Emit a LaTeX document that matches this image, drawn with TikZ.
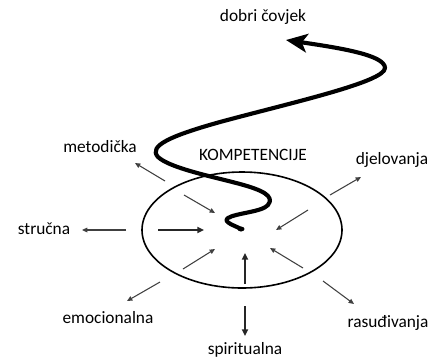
\documentclass[tikz,border=0pt]{standalone}
\usepackage{fontspec}
\setmainfont{Carlito}
\usetikzlibrary{arrows.meta,shapes.geometric}
\begin{document}
\begin{tikzpicture}[x=0.75pt,y=-0.75pt,
  lbl/.style={font=\fontsize{13}{15}\selectfont, inner sep=0pt},
  thin arrow/.style={draw=black!75, line width=0.8pt, -{Triangle[length=4pt,width=3.5pt]}},
  thick arrow/.style={draw=black!85, line width=1.4pt, -{Triangle[length=5pt,width=4.5pt]}},
  spiral/.style={line width=3.1pt, line cap=round, line join=round, -{Stealth[length=16pt,width=14pt,inset=4pt]}}]
\useasboundingbox (0,0) rectangle (441,361);
% circle
\node[draw, line width=1.2pt, ellipse, minimum width=150pt, minimum height=87pt, inner sep=0pt] (ell) at (242,230) {};
% labels
\node[lbl] (dobri) at (263,17) {dobri čovjek};
\node[lbl] (met) at (100,147) {metodička};
\node[lbl] (komp) at (253,155) {KOMPETENCIJE};
\node[lbl] (dje) at (392,160) {djelovanja};
\node[lbl] (str) at (44,229) {stručna};
\node[lbl] (emo) at (108,318) {emocionalna};
\node[lbl] (spi) at (245,350) {spiritualna};
\node[lbl] (ras) at (388,323) {rasuđivanja};
% coordinates for arrows
\coordinate (m1) at (165,181); \coordinate (m2) at (135,163);
\coordinate (d1) at (330,195); \coordinate (d2) at (361,177);
\coordinate (s1) at (126,230); \coordinate (s2) at (82,230);
\coordinate (e1) at (160,282); \coordinate (e2) at (127,301);
\coordinate (p1) at (245,306); \coordinate (p2) at (245,336);
\coordinate (r1) at (323,281); \coordinate (r2) at (354,304);
\coordinate (i1a) at (184,195); \coordinate (i1b) at (215,213);
\coordinate (i2a) at (158,230); \coordinate (i2b) at (204,230);
\coordinate (i3a) at (183,269); \coordinate (i3b) at (215,249);
\coordinate (i4a) at (245,284); \coordinate (i4b) at (245,253);
\coordinate (i5a) at (303,268); \coordinate (i5b) at (270,248);
\coordinate (i6a) at (308,210); \coordinate (i6b) at (276,230);
% outward
\draw[thin arrow] (m1) -- (m2);
\draw[thin arrow] (d1) -- (d2);
\draw[thin arrow] (s1) -- (s2);
\draw[thin arrow] (e1) -- (e2);
\draw[thick arrow] (p1) -- (p2);
\draw[thin arrow] (r1) -- (r2);
% inward
\draw[thin arrow] (i1a) -- (i1b);
\draw[thick arrow] (i2a) -- (i2b);
\draw[thin arrow] (i3a) -- (i3b);
\draw[thick arrow] (i4a) -- (i4b);
\draw[thin arrow] (i5a) -- (i5b);
\draw[thin arrow] (i6a) -- (i6b);
% spiral
\coordinate (c0) at (241,229);
\coordinate (ctip) at (286,40);
\fill (c0) ellipse (3.5 and 2.5);
\draw[spiral] (c0) .. controls (236,226) and (222,222) .. (228,218)
  .. controls (236,213) and (262,212) .. (268,205)
  .. controls (275,196) and (262,190) .. (240,184)
  .. controls (210,176) and (170,168) .. (158,157)
  .. controls (148,146) and (170,136) .. (220,122)
  .. controls (290,103) and (385,82) .. (385,68)
  .. controls (385,55) and (340,48) .. (ctip);
\end{tikzpicture}
\end{document}
